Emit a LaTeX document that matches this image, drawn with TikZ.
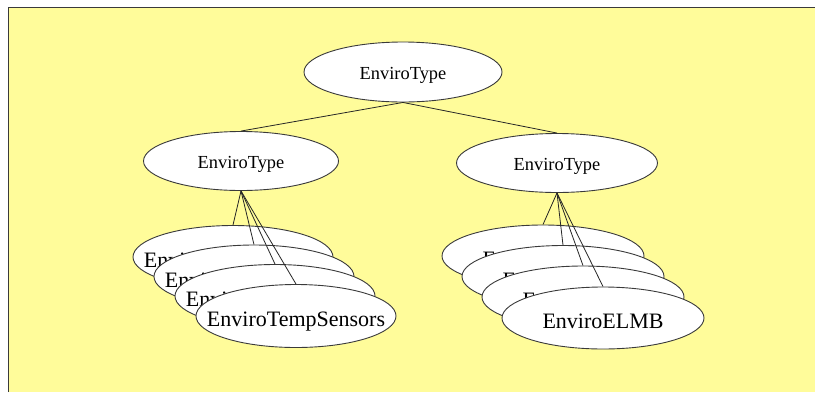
\documentclass[tikz,border=0pt]{standalone}
\usepackage{fontspec}
\setmainfont{Liberation Serif}
\usetikzlibrary{shapes.geometric}
\definecolor{bgyellow}{HTML}{FFFC9A}
\definecolor{edgegray}{HTML}{3A3A3A}
\tikzset{
  ellbase/.style={ellipse, draw=edgegray, line width=0.9pt, fill=white, inner ysep=0pt, inner xsep=-30pt, text depth=0pt},
  typenode/.style={ellbase, minimum width=198pt, minimum height=60pt, font=\fontsize{18.4}{20}\selectfont, text height=14pt},
  leafnode/.style={ellbase, minimum width=200pt, minimum height=63pt, font=\fontsize{22}{24}\selectfont, text height=21pt},
  conn/.style={draw=black!85, line width=0.8pt}
}
\begin{document}
\begin{tikzpicture}[x=1pt,y=-1pt]
\useasboundingbox (0,0) rectangle (815,392);
\fill[white] (0,0) rectangle (815,392);
\fill[bgyellow] (8.5,7.5) rectangle (815,392);
\draw[edgegray, line width=1.3pt] (8.5,392) -- (8.5,7.5) -- (815,7.5);
% top levels
\node[typenode] (root) at (403,72) {EnviroType};
\node[typenode, minimum width=195pt, minimum height=59pt] (left) at (241,161) {EnviroType};
\node[typenode, minimum width=201pt, minimum height=59pt] (right) at (557,163) {EnviroType};
% left stack
\node[leafnode] (l1) at (233,257) {EnviroTempSensors};
\node[leafnode] (l2) at (254,276.5) {EnviroTempSensors};
\node[leafnode] (l3) at (275,296) {EnviroTempSensors};
\node[leafnode] (l4) at (296,316) {EnviroTempSensors};
% right stack
\node[leafnode, minimum width=202pt, minimum height=62pt] (r1) at (543,256) {EnviroELMB};
\node[leafnode, minimum width=202pt, minimum height=62pt] (r2) at (563,276.5) {EnviroELMB};
\node[leafnode, minimum width=202pt, minimum height=62pt] (r3) at (583,297) {EnviroELMB};
\node[leafnode, minimum width=202pt, minimum height=62pt] (r4) at (603,318) {EnviroELMB};
% connectors
\draw[conn] (root.south) -- (left.north);
\draw[conn] (root.south) -- (right.north);
\foreach \n in {l1,l2,l3,l4} \draw[conn] (left.south) -- (\n.north);
\foreach \n in {r1,r2,r3,r4} \draw[conn] (right.south) -- (\n.north);
\end{tikzpicture}
\end{document}
